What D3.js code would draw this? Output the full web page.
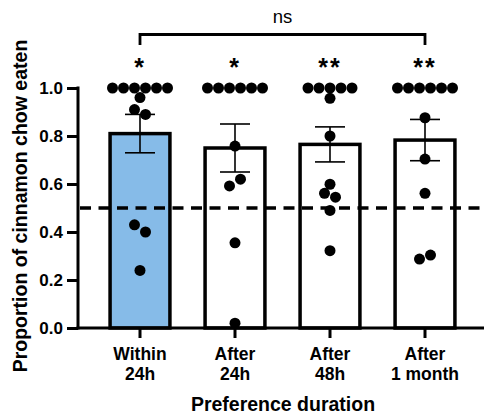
<!DOCTYPE html>
<html>
<head>
<meta charset="utf-8">
<script src="https://cdn.jsdelivr.net/npm/d3@7"></script>
<style>
  body { margin: 0; background: #fff; }
  text { font-family: "Liberation Sans", Arial, sans-serif; }
</style>
</head>
<body>
<div class="canvas"></div>
<script>
const groups = ['Within\n24h', 'After\n24h', 'After\n48h', 'After\n1 month']
const means = [0.81, 0.75, 0.765, 0.783]
const sems = [0.08, 0.10, 0.073, 0.086]
const stars = ['*', '*', '**', '**']
// values listed top to bottom, left to right within a row
const points = [
    [1, 1, 1, 1, 1, 1, 0.96, 0.91, 0.89, 0.43, 0.40, 0.24],
    [1, 1, 1, 1, 1, 1, 0.758, 0.592, 0.62, 0.355, 0.02],
    [1, 1, 1, 1, 1, 0.957, 0.8, 0.599, 0.561, 0.545, 0.49, 0.322],
    [1, 1, 1, 1, 1, 1, 0.876, 0.704, 0.561, 0.287, 0.304]
]
const yTicks = [0, 0.2, 0.4, 0.6, 0.8, 1.0]
const chance = 0.5

const dims = { width: 486, height: 415 }
const r = 5.5

const svg = d3.select('.canvas')
    .append('svg')
    .attr('width', dims.width)
    .attr('height', dims.height)

const x = d3.scaleBand()
    .domain(groups)
    .range([92.5, 472.5])
    .paddingInner(0.37)
    .paddingOuter(0.185)

const y = d3.scaleLinear()
    .domain([0, 1])
    .range([328, 88])

const axisX0 = 78
const axisX1 = 484

// bars
svg.selectAll('rect.bar')
    .data(groups)
    .enter()
    .append('rect')
        .attr('class', 'bar')
        .attr('x', d => x(d))
        .attr('y', (d, i) => y(means[i]))
        .attr('width', x.bandwidth())
        .attr('height', (d, i) => y(0) - y(means[i]))
        .attr('fill', (d, i) => i === 0 ? '#86bbe8' : '#fff')
        .attr('stroke', '#000')
        .attr('stroke-width', 3.5)

// dashed chance line
svg.append('line')
    .attr('x1', axisX0 + 2).attr('x2', dims.width)
    .attr('y1', y(chance)).attr('y2', y(chance))
    .attr('stroke', '#000')
    .attr('stroke-width', 3.5)
    .attr('stroke-dasharray', '11,7.5')

// error bars
const capW = 15
groups.forEach((g, i) => {
    const cx = x(g) + x.bandwidth() / 2
    const e = svg.append('g').attr('stroke', '#000').attr('stroke-width', 1.6)
    e.append('line').attr('x1', cx).attr('x2', cx)
        .attr('y1', y(means[i] - sems[i])).attr('y2', y(means[i] + sems[i]))
    e.append('line').attr('x1', cx - capW).attr('x2', cx + capW)
        .attr('y1', y(means[i] + sems[i])).attr('y2', y(means[i] + sems[i]))
    e.append('line').attr('x1', cx - capW).attr('x2', cx + capW)
        .attr('y1', y(means[i] - sems[i])).attr('y2', y(means[i] - sems[i]))
})

// column scatter: close values share a row, spread symmetrically
const rowLayout = (vals) => {
    const out = []
    let row = []
    const flush = () => {
        row.forEach((v, k) => out.push({ x: (k - (row.length - 1) / 2) * 2 * r, y: y(v) }))
        row = []
    }
    vals.forEach(v => {
        if (row.length && Math.abs(y(v) - y(row[0])) > 8) flush()
        row.push(v)
    })
    flush()
    return out
}

groups.forEach((g, i) => {
    const cx = x(g) + x.bandwidth() / 2
    svg.append('g').selectAll('circle')
        .data(rowLayout(points[i]))
        .enter()
        .append('circle')
            .attr('cx', d => cx + d.x)
            .attr('cy', d => d.y)
            .attr('r', r)
            .attr('fill', '#000')
})

// axes
const yAxis = d3.axisLeft(y).tickValues(yTicks).tickFormat(d3.format('.1f')).tickSize(11).tickPadding(4)
const yg = svg.append('g')
    .attr('transform', `translate(${axisX0}, 0)`)
    .call(yAxis)
yg.select('.domain').remove()
yg.selectAll('line').attr('stroke-width', 3)
yg.selectAll('text').attr('font-size', 17).attr('font-weight', 'bold').attr('fill', '#000')
yg.append('line')
    .attr('x1', 0).attr('x2', 0)
    .attr('y1', y(1) - 1.5).attr('y2', y(0) + 1.5)
    .attr('stroke', '#000').attr('stroke-width', 3)

const xg = svg.append('g')
xg.append('line')
    .attr('x1', axisX0 - 1.5).attr('x2', axisX1)
    .attr('y1', y(0)).attr('y2', y(0))
    .attr('stroke', '#000').attr('stroke-width', 3)
groups.forEach(g => {
    const cx = x(g) + x.bandwidth() / 2
    xg.append('line')
        .attr('x1', cx).attr('x2', cx)
        .attr('y1', y(0)).attr('y2', y(0) + 10)
        .attr('stroke', '#000').attr('stroke-width', 3)
    const t = xg.append('text')
        .attr('x', cx)
        .attr('y', 360)
        .attr('text-anchor', 'middle')
        .attr('font-size', 17.5)
        .attr('font-weight', 'bold')
    g.split('\n').forEach((line, k) => {
        t.append('tspan').attr('x', cx).attr('dy', k === 0 ? 0 : 20).text(line)
    })
})

// significance stars
svg.selectAll('text.star')
    .data(stars)
    .enter()
    .append('text')
        .attr('class', 'star')
        .attr('x', (d, i) => x(groups[i]) + x.bandwidth() / 2)
        .attr('y', 76)
        .attr('text-anchor', 'middle')
        .attr('font-size', 25)
        .attr('font-weight', 'bold')
        .attr('letter-spacing', 2)
        .text(d => d)

// bracket
const bx0 = x(groups[0]) + x.bandwidth() / 2
const bx1 = x(groups[3]) + x.bandwidth() / 2
svg.append('path')
    .attr('d', `M${bx0},45V34.5H${bx1}V45`)
    .attr('fill', 'none')
    .attr('stroke', '#000')
    .attr('stroke-width', 2.8)
svg.append('text')
    .attr('x', (bx0 + bx1) / 2)
    .attr('y', 23)
    .attr('text-anchor', 'middle')
    .attr('font-size', 18.5)
    .text('ns')

// axis titles
svg.append('text')
    .attr('transform', `translate(27, 206) rotate(-90)`)
    .attr('text-anchor', 'middle')
    .attr('font-size', 19.5)
    .attr('font-weight', 'bold')
    .text('Proportion of cinnamon chow eaten')

svg.append('text')
    .attr('x', 283)
    .attr('y', 411)
    .attr('text-anchor', 'middle')
    .attr('font-size', 19.5)
    .attr('font-weight', 'bold')
    .text('Preference duration')
</script>
</body>
</html>
